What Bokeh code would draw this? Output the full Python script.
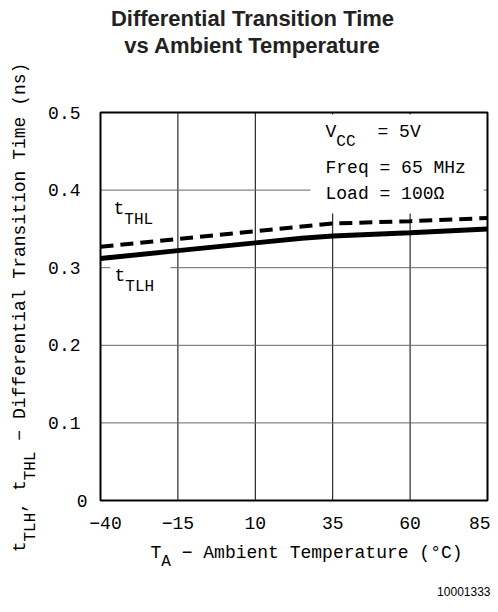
import math
from bokeh.plotting import figure
from bokeh.models import Range1d, FixedTicker, Label, BoxAnnotation
from bokeh.embed import file_html
from bokeh.resources import INLINE

# ---- data ----
temps = [-40, -15, 10, 25, 35, 60, 85]
t_tlh = [0.312, 0.322, 0.332, 0.338, 0.341, 0.345, 0.350]
t_thl = [0.327, 0.337, 0.347, 0.353, 0.357, 0.360, 0.364]
x_ticks = [-40, -15, 10, 35, 60, 85]
x_tick_labels = ["\u221240", "\u221215", "10", "35", "60", "85"]
y_ticks = [0, 0.1, 0.2, 0.3, 0.4, 0.5]
y_tick_labels = ["0", "0.1", "0.2", "0.3", "0.4", "0.5"]

title_lines = ["Differential Transition Time", "vs Ambient Temperature"]
conditions = ["Freq = 65 MHz", "Load = 100\u03a9"]

# ---- layout (pixels) ----
W, H = 498, 612
PL, PR, PT, PB = 100, 487, 112, 500      # plot box on the page
FONT = "Liberation Mono"
MAIN, SUB = 18, 16
ADV_MAIN, ADV_SUB = 0.6 * MAIN, 0.6 * SUB
SUB_DROP = 10
BASE_CORR = 0.36   # baseline correction, fraction of font size

x0, x1 = x_ticks[0], x_ticks[-1]
y0, y1 = y_ticks[0], y_ticks[-1]
kx = (PR - PL) / (x1 - x0)
ky = (PB - PT) / (y1 - y0)

p = figure(width=W, height=H, output_backend="svg", toolbar_location=None,
           x_range=Range1d(x0 - PL / kx, x1 + (W - PR) / kx),
           y_range=Range1d(y0 - (H - PB) / ky, y1 + PT / ky),
           min_border=0, title_location=None)
p.background_fill_color = "white"
p.border_fill_color = "white"
p.outline_line_color = None
p.grid.visible = False

p.xaxis.ticker = FixedTicker(ticks=x_ticks)
p.yaxis.ticker = FixedTicker(ticks=y_ticks)
p.xaxis.fixed_location = y0
p.yaxis.fixed_location = x0
xov = {t: l for t, l in zip(x_ticks, x_tick_labels)}
xov[x_ticks[0]] = ""
xov[x_ticks[-1]] = ""
p.xaxis.major_label_overrides = xov
yov = {t: l for t, l in zip(y_ticks, y_tick_labels)}
yov[y_ticks[0]] = ""
p.yaxis.major_label_overrides = yov
for ax in (p.xaxis[0], p.yaxis[0]):
    ax.major_tick_out = 0
    ax.major_tick_in = 0
    ax.minor_tick_out = 0
    ax.minor_tick_in = 0
    ax.axis_line_color = None
    ax.major_label_text_font = FONT
    ax.major_label_text_font_size = f"{MAIN}px"
    ax.major_label_text_color = "black"
p.yaxis.major_label_standoff = 20
p.xaxis.major_label_standoff = 16

# grid lines inside the plot box
p.segment(x0=x_ticks[1:-1], y0=y0, x1=x_ticks[1:-1], y1=y1,
          line_color="black", line_width=1)
p.segment(x0=x0, y0=y_ticks[1:-1], x1=x1, y1=y_ticks[1:-1],
          line_color="#666666", line_width=1)

# white areas behind in-plot texts
p.add_layout(BoxAnnotation(left=27.8, right=83.8, bottom=0.37, top=0.4975,
                           fill_color="white", fill_alpha=1, line_color=None))
p.add_layout(BoxAnnotation(left=-36.8, right=-17.4, bottom=0.296, top=0.304,
                           fill_color="white", fill_alpha=1, line_color=None))

p.line(temps, t_tlh, line_width=5, line_color="black")
p.line(temps, t_thl, line_width=4, line_color="black", line_dash="13 7")

# plot box
p.quad(left=x0, right=x1, bottom=y0, top=y1, fill_color=None,
       line_color="black", line_width=2)


def lab(text, x, y, size=MAIN, font=FONT, angle=0, align="left",
        baseline="alphabetic", style="normal", color="black",
        xu="screen", yu="screen", x_offset=0):
    p.add_layout(Label(x=x, y=y, x_units=xu, y_units=yu, text=text,
                       text_font=font, text_font_size=f"{size}px",
                       text_align=align, text_baseline=baseline,
                       angle=angle, text_color=color,
                       text_font_style=style, x_offset=x_offset))


def ry(py):
    return H - py


def htext(text, x, base_y, size=MAIN, **kw):
    lab(text, x, ry(base_y - BASE_CORR * size), size=size, **kw)


# end tick labels placed like the reference
lab(x_tick_labels[0], x_ticks[0], ry(PB + 16), xu="data", align="center",
    baseline="top", x_offset=5)
lab(x_tick_labels[-1], x_ticks[-1], ry(PB + 16), xu="data", align="right",
    baseline="top", x_offset=3)
lab(y_tick_labels[0], x_ticks[0], y_ticks[0], xu="data", yu="data",
    align="right", baseline="middle", x_offset=-13)

# title
htext(title_lines[0], 252, 26, size=22, font="Liberation Sans",
      align="center", style="bold", color="#222222")
htext(title_lines[1], 252, 53, size=22, font="Liberation Sans",
      align="center", style="bold", color="#222222")

# y axis label with subscripts (rotated)
ypieces = [("t", False), ("TLH", True), (", t", False), ("THL", True),
           ("\u00a0\u2212 Differential Transition Time (ns)", False)]
total = sum(len(t) * (ADV_SUB if s else ADV_MAIN) for t, s in ypieces)
pos = 307 + total / 2
YBASE = 26
for t, s in ypieces:
    size = SUB if s else MAIN
    bx = YBASE + (SUB_DROP if s else 0)
    lab(t, bx - BASE_CORR * size, ry(pos), size=size, angle=math.pi / 2)
    pos -= len(t) * (ADV_SUB if s else ADV_MAIN)

# x axis label with subscript
xpieces = [("T", False), ("A", True),
           ("\u00a0\u2212 Ambient Temperature (\u00b0C)", False)]
total = sum(len(t) * (ADV_SUB if s else ADV_MAIN) for t, s in xpieces)
pos = 306 - total / 2
XBASE = 559
for t, s in xpieces:
    size = SUB if s else MAIN
    htext(t, pos, XBASE + (8 if s else 0), size=size)
    pos += len(t) * (ADV_SUB if s else ADV_MAIN)

# conditions box
htext("V", 325, 138)
htext("CC", 325 + ADV_MAIN, 138 + 9, size=SUB)
htext("= 5V", 377, 138)
htext(conditions[0], 325, 174)
htext(conditions[1], 325, 200)

# curve labels
htext("t", 113, 215)
htext("THL", 113 + ADV_MAIN, 215 + SUB_DROP, size=SUB)
htext("t", 114, 282)
htext("TLH", 114 + ADV_MAIN, 282 + SUB_DROP, size=SUB)

# figure id
htext("10001333", 490, 595, size=12, font="Liberation Sans", align="right")

open("out.html", "w").write(file_html(p, INLINE))
